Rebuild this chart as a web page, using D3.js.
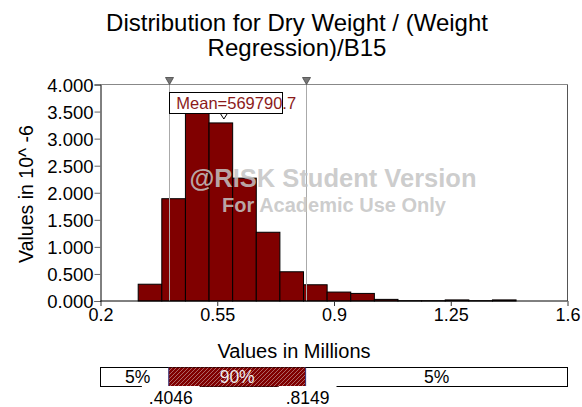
<!DOCTYPE html>
<html>
<head>
<meta charset="utf-8">
<script src="https://cdn.jsdelivr.net/npm/d3@7"></script>
<style>
  html, body { margin: 0; padding: 0; background: #fff; }
  svg { display: block; }
  text { font-family: "Liberation Sans", Arial, sans-serif; }
</style>
</head>
<body>
<svg id="chart" width="582" height="407"></svg>
<script>
// ---------- data ----------
const titleLines = ["Distribution for Dry Weight / (Weight", "Regression)/B15"];
const binEdges = [0.313, 0.3838, 0.4546, 0.5254, 0.5962, 0.667, 0.7378, 0.8086, 0.8794,
                  0.9502, 1.021, 1.0918, 1.1626, 1.2334, 1.3042, 1.375, 1.4458];
const binValues = [0.31, 1.89, 3.47, 3.29, 2.27, 1.27, 0.54, 0.30, 0.165,
                   0.14, 0.03, 0.006, 0.006, 0.02, 0.006, 0.02];
const xTicks = [0.2, 0.55, 0.9, 1.25, 1.6];
const xTickLabels = ["0.2", "0.55", "0.9", "1.25", "1.6"];
const yTicks = [0, 0.5, 1, 1.5, 2, 2.5, 3, 3.5, 4];
const yTickLabels = ["0.000", "0.500", "1.000", "1.500", "2.000", "2.500", "3.000", "3.500", "4.000"];
const meanValue = 0.5697907;
const meanLabel = "Mean=569790.7";
const pctBounds = [0.4046, 0.8149];
const pctBoundLabels = [".4046", ".8149"];
const pctLabels = ["5%", "90%", "5%"];
const xTitle = "Values in Millions";
const yTitle = "Values in 10^ -6";
const watermark = ["@RISK Student Version", "For Academic Use Only"];

// ---------- layout ----------
const svg = d3.select("#chart");
const pL = 100.5, pR = 567.5, pT = 84.5, pB = 301;
const x = d3.scaleLinear().domain([0.2, 1.6]).range([pL, pR]);
const y = d3.scaleLinear().domain([0, 4]).range([pB, pT]);
const darkRed = "#800000";

// title
svg.append("g").selectAll("text").data(titleLines).join("text")
  .attr("x", 297).attr("y", (d, i) => 31 + i * 24.5)
  .attr("text-anchor", "middle").attr("font-size", 24).attr("fill", "#000")
  .text(d => d);

// top gray line & right frame
svg.append("line").attr("x1", pL).attr("x2", pR).attr("y1", pT).attr("y2", pT)
  .attr("stroke", "#888").attr("stroke-width", 1);
svg.append("line").attr("x1", pR).attr("x2", pR).attr("y1", pT).attr("y2", pB)
  .attr("stroke", "#555").attr("stroke-width", 1);

// bars
svg.append("g").selectAll("rect").data(binValues).join("rect")
  .attr("x", (d, i) => x(binEdges[i]))
  .attr("width", (d, i) => x(binEdges[i + 1]) - x(binEdges[i]))
  .attr("y", d => y(d))
  .attr("height", d => pB - y(d))
  .attr("fill", darkRed).attr("stroke", "#000").attr("stroke-width", 1);

// percentile lines
svg.append("g").selectAll("line").data(pctBounds).join("line")
  .attr("x1", d => Math.round(x(d)) + 0.5).attr("x2", d => Math.round(x(d)) + 0.5)
  .attr("y1", pT).attr("y2", pB)
  .attr("stroke", "#aaa").attr("stroke-width", 1);

// top markers
svg.append("g").selectAll("path").data(pctBounds).join("path")
  .attr("d", d => {
    const cx = Math.round(x(d)) + 0.5;
    return `M${cx - 4},${pT - 7} L${cx + 4},${pT - 7} L${cx},${pT} Z`;
  })
  .attr("fill", "#777").attr("stroke", "#444").attr("stroke-width", 0.8);

// watermark
const wm = svg.append("g").attr("font-weight", "bold").attr("fill", "#c4c4c4").attr("fill-opacity", 0.85)
  .attr("text-anchor", "middle");
wm.append("text").attr("x", 333).attr("y", 187).attr("font-size", 25.5).text(watermark[0]);
wm.append("text").attr("x", 334).attr("y", 212).attr("font-size", 20).text(watermark[1]);

// axes
const yAxis = d3.axisLeft(y).tickValues(yTicks).tickFormat((d, i) => yTickLabels[i])
  .tickSize(6).tickPadding(1);
const gy = svg.append("g").attr("transform", `translate(${pL},0)`).call(yAxis);
gy.selectAll("text").attr("font-size", 18.5).attr("fill", "#000").attr("dy", "0.36em");
gy.select(".domain").attr("stroke", "#000");
gy.selectAll(".tick line").attr("stroke", "#666");

const xAxis = d3.axisBottom(x).tickValues(xTicks).tickFormat((d, i) => xTickLabels[i])
  .tickSize(5).tickPadding(2);
const gx = svg.append("g").attr("transform", `translate(0,${pB})`).call(xAxis);
gx.selectAll("text").attr("font-size", 18).attr("fill", "#000");
gx.select(".domain").attr("stroke", "#000").attr("d", `M${pL},0H${pR}`);
gx.selectAll(".tick line").attr("stroke", "#333");

// axis titles
svg.append("text").attr("transform", `translate(33,194) rotate(-90)`)
  .attr("text-anchor", "middle").attr("font-size", 19.5).attr("fill", "#000").text(yTitle);
svg.append("text").attr("x", 294).attr("y", 358)
  .attr("text-anchor", "middle").attr("font-size", 20).attr("fill", "#000").text(xTitle);

// mean label (text overflows its box on the right, as in the reference)
const mx = x(meanValue);
const ml = svg.append("g");
ml.append("rect").attr("x", Math.round(mx - 55) + 0.5).attr("y", 92.5)
  .attr("width", 113).attr("height", 21)
  .attr("fill", "#fff").attr("stroke", "#000").attr("stroke-width", 1);
ml.append("text").attr("x", mx - 47.5).attr("y", 109)
  .attr("text-anchor", "start").attr("font-size", 16.5).attr("fill", "#8b1a1a").text(meanLabel);
svg.append("path")
  .attr("d", `M${mx - 3.5},113.5 L${mx + 3.5},113.5 L${mx},119 Z`)
  .attr("fill", "#fff").attr("stroke", "#000").attr("stroke-width", 1);

// ---------- bottom percentile bar ----------
const defs = svg.append("defs");
const pat = defs.append("pattern").attr("id", "hatch").attr("patternUnits", "userSpaceOnUse")
  .attr("width", 4).attr("height", 4);
pat.append("rect").attr("width", 4).attr("height", 4).attr("fill", darkRed);
pat.append("path").attr("d", "M-1,1 L1,-1 M0,4 L4,0 M3,5 L5,3")
  .attr("stroke", "#b98080").attr("stroke-width", 0.8);

const barTop = 367.5, barBot = 386.5;
const segs = [[0.2, pctBounds[0]], [pctBounds[0], pctBounds[1]], [pctBounds[1], 1.6]];
svg.append("rect").attr("x", x(0.2)).attr("y", barTop).attr("width", x(1.6) - x(0.2))
  .attr("height", barBot - barTop).attr("fill", "#fff").attr("stroke", "#000").attr("stroke-width", 1);
svg.append("rect").attr("x", x(pctBounds[0])).attr("y", barTop)
  .attr("width", x(pctBounds[1]) - x(pctBounds[0])).attr("height", barBot - barTop)
  .attr("fill", "url(#hatch)").attr("stroke", "none");
svg.append("g").selectAll("line").data(pctBounds).join("line")
  .attr("x1", d => x(d)).attr("x2", d => x(d)).attr("y1", barTop).attr("y2", barBot)
  .attr("stroke", "#33337a").attr("stroke-width", 1);
svg.append("g").selectAll("text").data(pctLabels).join("text")
  .attr("x", (d, i) => (x(segs[i][0]) + x(segs[i][1])) / 2 + (i === 0 ? 3 : 0))
  .attr("y", 383).attr("text-anchor", "middle").attr("font-size", 17.5)
  .attr("fill", (d, i) => i === 1 ? "#eee" : "#000").text(d => d);

const bl = svg.append("g");
pctBoundLabels.forEach((lab, i) => {
  const t = bl.append("text").attr("x", x(pctBounds[i]) + 2).attr("y", 404)
    .attr("text-anchor", "middle").attr("font-size", 17.5).attr("fill", "#000").text(lab);
  const b = t.node().getBBox();
  bl.insert("rect", "text").attr("x", b.x - 7).attr("y", barBot - 0.5)
    .attr("width", b.width + 14).attr("height", 407 - barBot).attr("fill", "#fff");
});
</script>
</body>
</html>
